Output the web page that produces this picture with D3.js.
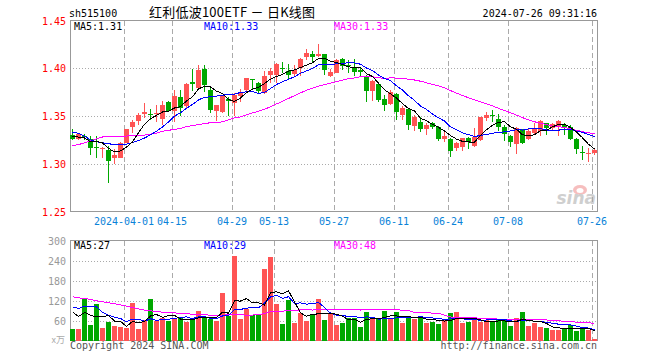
<!DOCTYPE html>
<html>
<head>
<meta charset="utf-8">
<script src="https://cdn.jsdelivr.net/npm/d3@7"></script>
<style>
    body { margin: 0; background: #fff; }
    svg text { font-family: "DejaVu Sans Mono", monospace; font-size: 10px; }
</style>
</head>
<body>
<svg id="chart" width="660" height="360"></svg>
<script>
const dates = [
    "2024-03-19","2024-03-20","2024-03-21","2024-03-22","2024-03-25","2024-03-26","2024-03-27","2024-03-28","2024-03-29",
    "2024-04-01","2024-04-02","2024-04-03","2024-04-08","2024-04-09","2024-04-10","2024-04-11","2024-04-12",
    "2024-04-15","2024-04-16","2024-04-17","2024-04-18","2024-04-19","2024-04-22","2024-04-23","2024-04-24","2024-04-25","2024-04-26",
    "2024-04-29","2024-04-30","2024-05-06","2024-05-07","2024-05-08","2024-05-09","2024-05-10",
    "2024-05-13","2024-05-14","2024-05-15","2024-05-16","2024-05-17","2024-05-20","2024-05-21","2024-05-22","2024-05-23","2024-05-24",
    "2024-05-27","2024-05-28","2024-05-29","2024-05-30","2024-05-31","2024-06-03","2024-06-04","2024-06-05","2024-06-06","2024-06-07",
    "2024-06-11","2024-06-12","2024-06-13","2024-06-14","2024-06-17","2024-06-18","2024-06-19","2024-06-20","2024-06-21",
    "2024-06-24","2024-06-25","2024-06-26","2024-06-27","2024-06-28","2024-07-01","2024-07-02","2024-07-03","2024-07-04","2024-07-05",
    "2024-07-08","2024-07-09","2024-07-10","2024-07-11","2024-07-12","2024-07-15","2024-07-16","2024-07-17","2024-07-18","2024-07-19",
    "2024-07-22","2024-07-23","2024-07-24","2024-07-25","2024-07-26"
];

const opens = [
    1.330,1.326,1.329,1.326,1.318,1.316,1.314,1.306,1.306,1.322,
    1.339,1.345,1.352,1.352,1.352,1.347,1.365,1.355,1.370,1.360,
    1.386,1.379,1.399,1.377,1.355,1.354,1.368,1.364,1.371,1.377,
    1.389,1.385,1.374,1.393,1.393,1.400,1.397,1.394,1.400,1.412,
    1.415,1.413,1.415,1.392,1.395,1.410,1.403,1.400,1.398,1.392,
    1.376,1.383,1.368,1.363,1.373,1.351,1.357,1.340,1.344,1.336,
    1.343,1.339,1.326,1.326,1.316,1.318,1.327,1.319,1.325,1.348,
    1.351,1.347,1.338,1.329,1.321,1.336,1.326,1.332,1.334,1.343,
    1.337,1.340,1.341,1.339,1.326,1.312,1.311,1.311
];
const highs = [
    1.336,1.332,1.331,1.329,1.329,1.318,1.319,1.315,1.323,1.336,
    1.346,1.353,1.364,1.357,1.362,1.366,1.366,1.377,1.377,1.385,
    1.399,1.403,1.403,1.381,1.361,1.372,1.370,1.374,1.378,1.390,
    1.389,1.386,1.397,1.400,1.406,1.407,1.404,1.403,1.411,1.420,
    1.418,1.425,1.415,1.399,1.410,1.411,1.409,1.410,1.400,1.393,
    1.388,1.385,1.372,1.377,1.374,1.360,1.358,1.351,1.349,1.343,
    1.344,1.340,1.334,1.327,1.323,1.327,1.328,1.337,1.349,1.354,
    1.356,1.352,1.341,1.330,1.339,1.336,1.336,1.343,1.346,1.343,
    1.343,1.346,1.343,1.341,1.327,1.319,1.316,1.316
];
const lows = [
    1.325,1.325,1.325,1.309,1.306,1.306,1.280,1.300,1.306,1.322,
    1.332,1.341,1.348,1.346,1.344,1.341,1.354,1.344,1.350,1.357,
    1.376,1.378,1.375,1.353,1.345,1.353,1.350,1.350,1.365,1.376,
    1.378,1.373,1.373,1.385,1.385,1.395,1.389,1.392,1.392,1.409,
    1.407,1.412,1.393,1.391,1.395,1.398,1.395,1.392,1.392,1.365,
    1.366,1.365,1.355,1.362,1.346,1.346,1.335,1.334,1.333,1.330,
    1.336,1.324,1.323,1.307,1.313,1.313,1.315,1.318,1.324,1.345,
    1.344,1.334,1.324,1.318,1.310,1.321,1.325,1.330,1.329,1.330,
    1.334,1.329,1.330,1.325,1.310,1.304,1.302,1.309
];
const closes = [
    1.326,1.331,1.328,1.317,1.316,1.317,1.303,1.309,1.322,1.336,
    1.344,1.351,1.354,1.351,1.353,1.362,1.355,1.371,1.358,1.383,
    1.383,1.398,1.382,1.356,1.361,1.371,1.366,1.372,1.374,1.390,
    1.388,1.376,1.392,1.397,1.404,1.399,1.393,1.398,1.410,1.416,
    1.412,1.415,1.398,1.396,1.409,1.402,1.402,1.396,1.396,1.376,
    1.387,1.367,1.361,1.375,1.354,1.358,1.341,1.349,1.336,1.341,
    1.339,1.326,1.329,1.313,1.322,1.327,1.323,1.328,1.349,1.351,
    1.350,1.339,1.331,1.323,1.337,1.322,1.334,1.336,1.345,1.337,
    1.342,1.345,1.339,1.326,1.315,1.311,1.311,1.314
];
// volume in 万手
const volumes = [
    34,34,128,46,111,37,55,43,40,37,
    112,34,61,124,59,69,59,66,69,55,
    61,88,69,66,59,143,73,253,64,95,
    78,78,215,250,109,49,122,52,82,59,
    81,124,62,81,46,52,69,69,40,85,
    66,66,88,64,85,52,75,64,75,52,
    55,49,61,82,85,52,55,61,55,61,
    55,61,61,43,67,85,43,52,40,37,
    31,31,37,46,28,40,31,4
];

// moving average values before enough days are in view
const ma5Head = [1.329,1.328,1.327,1.323];
const ma10Head = [1.333,1.332,1.329,1.325,1.323,1.322,1.321,1.320,1.320];
const ma30Head = [
    1.319,1.320,1.322,1.324,1.326,1.328,1.329,1.329,1.329,1.329,
    1.330,1.330,1.330,1.331,1.332,1.334,1.335,1.336,1.337,1.339,
    1.340,1.341,1.342,1.343,1.343,1.344,1.346,1.348,1.349
];
const vma5Head = [86,72,84,76];
const vma10Head = [101,96,103,103,101,84,76,70,66];
const vma30Head = [
    131,128,126,123,119,116,113,110,107,103,
    99,95,91,89,87,85,84,83,81,80,
    79,78,77,76,75,76,77,79,79
];

const priceTicks = [1.25, 1.30, 1.35, 1.40, 1.45];
const volTicks = [60, 120, 180, 240, 300];
const dateTicks = ["2024-04-01","2024-04-15","2024-04-29","2024-05-13","2024-05-27","2024-06-11","2024-06-24","2024-07-08","2024-07-26"];
const priceLegend = ["MA5:1.31", "MA10:1.33", "MA30:1.33"];
const volLegend = ["MA5:27", "MA10:29", "MA30:48"];
const maColors = ["#000000", "#0000ff", "#ff00ff"];

const RED = "#ff5454";
const GREEN = "#00a800";

function movingAvg(values, n, head) {
    return values.map((v, i) => {
        if (i < n - 1) return head[i];
        return d3.mean(values.slice(i - n + 1, i + 1));
    });
}

const svg = d3.select("#chart");
const left = 70, right = 597;

const x = d3.scaleBand()
    .domain(dates)
    .range([left, right])
    .paddingInner(1 / 6)
    .paddingOuter(0);

const y = d3.scaleLinear().domain([1.25, 1.45]).range([211.5, 20.5]);
const yv = d3.scaleLinear().domain([0, 300]).range([340.5, 240.5]);

const rows = dates.map((d, i) => ({
    date: d, o: opens[i], h: highs[i], l: lows[i], c: closes[i], v: volumes[i]
}));
const isUp = d => d.c >= d.o;

// header
svg.append("text").attr("x", 69).attr("y", 17).text("sh515100");
svg.append("text").attr("x", 149).attr("y", 17)
    .style("font-family", "'Noto Sans CJK SC', sans-serif")
    .style("font-size", "13px")
    .attr("textLength", 166)
    .text("红利低波100ETF － 日K线图");
svg.append("text").attr("x", 597).attr("y", 17).attr("text-anchor", "end").text("2024-07-26 09:31:16");

function drawPanel(scale, ticks, top, bottom) {
    const g = svg.append("g").attr("shape-rendering", "crispEdges");
    g.selectAll(".hgrid")
        .data(ticks.filter(t => scale(t) > top + 1 && scale(t) < bottom - 1))
        .enter().append("line")
        .attr("x1", left).attr("x2", right)
        .attr("y1", t => Math.round(scale(t)) + 0.5)
        .attr("y2", t => Math.round(scale(t)) + 0.5)
        .attr("stroke", "#aaaaaa")
        .attr("stroke-dasharray", "1,2");
    g.selectAll(".vgrid")
        .data(dateTicks)
        .enter().append("line")
        .attr("x1", d => x(d) + 0.5).attr("x2", d => x(d) + 0.5)
        .attr("y1", top).attr("y2", bottom)
        .attr("stroke", "#aaaaaa")
        .attr("stroke-dasharray", "5,3");
    g.append("rect")
        .attr("x", left + 0.5).attr("y", top)
        .attr("width", right - left).attr("height", bottom - top)
        .attr("fill", "none")
        .attr("stroke", "#999999");
}

drawPanel(y, priceTicks, 20.5, 211.5);
drawPanel(yv, volTicks, 240.5, 340.5);

// price axis labels
svg.selectAll(".plabel")
    .data(priceTicks)
    .enter().append("text")
    .attr("x", 66).attr("y", d => y(d) + 4)
    .attr("text-anchor", "end")
    .attr("fill", "#ff0000")
    .text(d => d3.format(".2f")(d));

// volume axis labels
svg.selectAll(".vlabel")
    .data(volTicks)
    .enter().append("text")
    .attr("x", 66).attr("y", d => yv(d) + 4)
    .attr("text-anchor", "end")
    .attr("fill", "#999999")
    .text(d => d);
svg.append("text")
    .attr("x", 65).attr("y", 343)
    .attr("text-anchor", "end")
    .attr("fill", "#aaaaaa")
    .style("font-family", "'Noto Sans CJK SC', sans-serif")
    .style("font-size", "9px")
    .text("x万");

// date labels
svg.selectAll(".xlabel")
    .data(dateTicks)
    .enter().append("text")
    .attr("x", d => x(d))
    .attr("y", 225)
    .attr("text-anchor", "middle")
    .attr("fill", "#0a82d8")
    .text((d, i) => i === 0 ? d : d.slice(5));

// watermark
const mark = svg.append("g").attr("opacity", 0.55);
mark.append("ellipse").attr("cx", 580).attr("cy", 190).attr("rx", 7).attr("ry", 5).attr("fill", "#f08a8a");
mark.append("ellipse").attr("cx", 580).attr("cy", 190.5).attr("rx", 3.5).attr("ry", 2.5).attr("fill", "#fff");
mark.append("text")
    .attr("x", 596).attr("y", 204)
    .attr("text-anchor", "end")
    .style("font-family", "'DejaVu Sans', sans-serif")
    .style("font-size", "17px")
    .style("font-style", "italic")
    .style("font-weight", "bold")
    .attr("fill", "#a8a8a8")
    .text("sina");

// candles
const candles = svg.append("g").attr("shape-rendering", "crispEdges");
const cg = candles.selectAll(".candle")
    .data(rows)
    .enter().append("g");

cg.append("line")
    .attr("x1", d => x(d.date) + 2.5).attr("x2", d => x(d.date) + 2.5)
    .attr("y1", d => y(d.h)).attr("y2", d => y(d.l))
    .attr("stroke", d => isUp(d) ? RED : GREEN);

cg.append("rect")
    .attr("x", d => x(d.date))
    .attr("width", x.bandwidth())
    .attr("y", d => y(Math.max(d.o, d.c)))
    .attr("height", d => Math.max(1, Math.abs(y(d.o) - y(d.c))))
    .attr("fill", d => isUp(d) ? RED : GREEN);

// volume bars
svg.append("g").attr("shape-rendering", "crispEdges")
    .selectAll(".vol")
    .data(rows)
    .enter().append("rect")
    .attr("x", d => x(d.date))
    .attr("width", x.bandwidth())
    .attr("y", d => yv(d.v))
    .attr("height", d => yv(0) - yv(d.v))
    .attr("fill", d => isUp(d) ? RED : GREEN);

// moving averages
const priceMAs = [movingAvg(closes, 5, ma5Head), movingAvg(closes, 10, ma10Head), movingAvg(closes, 30, ma30Head)];
const volMAs = [movingAvg(volumes, 5, vma5Head), movingAvg(volumes, 10, vma10Head), movingAvg(volumes, 30, vma30Head)];

function drawLines(series, scale) {
    const line = d3.line()
        .x((v, i) => x(dates[i]) + x.bandwidth() / 2)
        .y(v => scale(v));
    series.slice().reverse().forEach((s, k) => {
        const idx = series.length - 1 - k;
        svg.append("path")
            .attr("d", line(s))
            .attr("fill", "none")
            .attr("stroke", maColors[idx])
            .attr("stroke-width", 1)
            .attr("shape-rendering", "crispEdges");
    });
}

drawLines(priceMAs, y);
drawLines(volMAs, yv);

// legends
const legendX = [74, 204, 334];
svg.selectAll(".plegend")
    .data(priceLegend)
    .enter().append("text")
    .attr("x", (d, i) => legendX[i]).attr("y", 30)
    .attr("fill", (d, i) => maColors[i])
    .text(d => d);
svg.selectAll(".vlegend")
    .data(volLegend)
    .enter().append("text")
    .attr("x", (d, i) => legendX[i]).attr("y", 249)
    .attr("fill", (d, i) => maColors[i])
    .text(d => d);

// footer
svg.append("text").attr("x", 70).attr("y", 349).attr("fill", "#555555").text("Copyright 2024 SINA.COM");
svg.append("text").attr("x", 597).attr("y", 349).attr("text-anchor", "end").attr("fill", "#555555").text("http://finance.sina.com.cn");
</script>
</body>
</html>
